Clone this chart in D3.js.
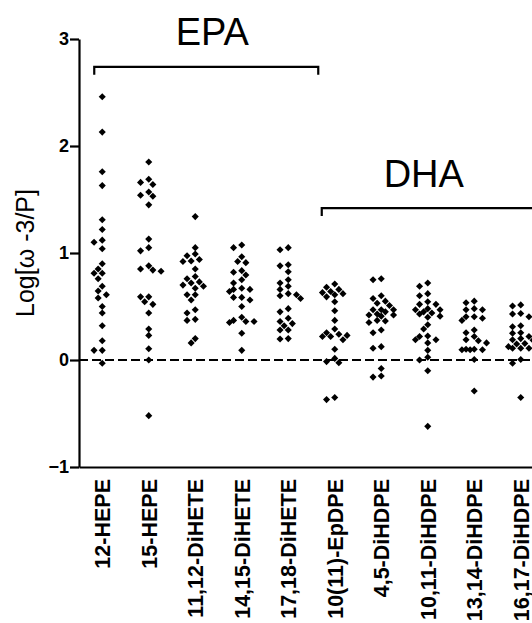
<!DOCTYPE html>
<html>
<head>
<meta charset="utf-8">
<script src="https://cdn.jsdelivr.net/npm/d3@7"></script>
<style>
  html, body { margin: 0; padding: 0; background: #fff; }
  svg { display: block; font-family: "Liberation Sans", Arial, sans-serif; }
  .axis path, .axis line { stroke: #000; stroke-width: 2.2px; }
  .axis text { fill: #000; font-weight: bold; }
</style>
</head>
<body>
<svg id="chart" width="532" height="623"></svg>
<script>
const categories = ['12-HEPE', '15-HEPE', '11,12-DiHETE', '14,15-DiHETE', '17,18-DiHETE',
  '10(11)-EpDPE', '4,5-DiHDPE', '10,11-DiHDPE', '13,14-DiHDPE', '16,17-DiHDPE'];

const hepe12 = [2.46, 2.13, 1.76, 1.63, 1.31, 1.22, 1.10, 1.12, 1.04, 0.90, 0.81, 0.81, 0.85, 0.76,
  0.69, 0.61, 0.645, 0.58, 0.50, 0.44, 0.32, 0.18, 0.09, 0.09, -0.03];
const hepe15 = [1.85, 1.66, 1.64, 1.69, 1.57, 1.53, 1.54, 1.45, 1.13, 1.05, 1.02, 0.85, 0.83, 0.84,
  0.88, 0.59, 0.545, 0.52, 0.59, 0.44, 0.29, 0.23, 0.105, 0.0, -0.52];
const dihete1112 = [1.34, 1.05, 0.99, 0.975, 0.94, 0.92, 0.925, 0.85, 0.76, 0.78, 0.72, 0.69, 0.73,
  0.67, 0.70, 0.61, 0.61, 0.56, 0.47, 0.44, 0.38, 0.37, 0.20, 0.16];
const dihete1415 = [1.075, 1.05, 0.965, 0.92, 0.91, 0.835, 0.82, 0.795, 0.75, 0.72, 0.66, 0.67, 0.66,
  0.64, 0.56, 0.585, 0.585, 0.50, 0.37, 0.40, 0.35, 0.36, 0.36, 0.25, 0.09];
const dihete1718 = [1.03, 1.05, 0.88, 0.89, 0.825, 0.72, 0.75, 0.69, 0.66, 0.60, 0.575, 0.61, 0.62,
  0.48, 0.45, 0.39, 0.34, 0.36, 0.32, 0.28, 0.28, 0.196, 0.20];
const epdpe1011 = [0.68, 0.71, 0.66, 0.62, 0.64, 0.63, 0.61, 0.59, 0.545, 0.46, 0.37, 0.29, 0.23,
  0.255, 0.22, 0.24, 0.19, 0.22, 0.10, -0.015, -0.025, 0.015, -0.37, -0.35];
const dihdpe45 = [0.75, 0.76, 0.60, 0.55, 0.575, 0.51, 0.53, 0.47, 0.45, 0.47, 0.47, 0.41, 0.43, 0.42,
  0.42, 0.37, 0.35, 0.365, 0.28, 0.255, 0.11, 0.125, -0.08, -0.16, -0.15];
const dihdpe1011 = [0.72, 0.69, 0.62, 0.60, 0.545, 0.52, 0.52, 0.47, 0.48, 0.43, 0.45, 0.47, 0.44,
  0.41, 0.40, 0.33, 0.29, 0.22, 0.19, 0.16, 0.19, 0.225, 0.09, 0.025, 0.0, -0.10, -0.62];
const dihdpe1314 = [0.55, 0.535, 0.47, 0.48, 0.47, 0.405, 0.39, 0.37, 0.405, 0.255, 0.22, 0.19, 0.28,
  0.10, 0.095, 0.095, 0.095, 0.10, 0.16, 0.18, 0.005, -0.29];
const dihdpe1617 = [0.505, 0.515, 0.43, 0.405, 0.435, 0.32, 0.25, 0.255, 0.31, 0.20, 0.19, 0.185,
  0.22, 0.11, 0.11, 0.11, 0.125, 0.155, 0.15, 0.005, -0.03, -0.35];

const seriesValues = [hepe12, hepe15, dihete1112, dihete1415, dihete1718,
  epdpe1011, dihdpe45, dihdpe1011, dihdpe1314, dihdpe1617];

const yTicks = [-1, 0, 1, 2, 3];
const groupNames = ['EPA', 'DHA'];
const groupFirst = [0, 5];
const groupLast = [4, 9];

const svg = d3.select('#chart');
const margin = { top: 39, left: 79, bottom: 156 };
const height = 623;
const plotBottom = height - margin.bottom;

// the original graph continues past the right edge, so the band range runs off-canvas
const x = d3.scaleBand().domain(categories).range([margin.left, margin.left + categories.length * 46.5]);
const y = d3.scaleLinear().domain([-1, 3]).range([plotBottom, margin.top]);

// zero reference line
svg.append('line')
  .attr('x1', margin.left).attr('x2', 532)
  .attr('y1', y(0)).attr('y2', y(0))
  .attr('stroke', '#000').attr('stroke-width', 2.2)
  .attr('stroke-dasharray', '9,4');

// x axis
const xAxisGroup = svg.append('g').attr('class', 'axis')
  .attr('transform', `translate(0, ${plotBottom})`)
  .call(d3.axisBottom(x).tickSize(0).tickSizeOuter(0).tickPadding(0));
xAxisGroup.selectAll('.tick text')
  .attr('transform', 'rotate(-90)')
  .attr('text-anchor', 'end')
  .attr('x', -12)
  .attr('y', 0)
  .attr('dy', '0.36em')
  .style('font-size', '21.5px');

// y axis
const yAxisGroup = svg.append('g').attr('class', 'axis')
  .attr('transform', `translate(${margin.left}, 0)`)
  .call(d3.axisLeft(y).tickValues(yTicks).tickFormat(d3.format('d')).tickSize(9).tickSizeOuter(0).tickPadding(1));
yAxisGroup.selectAll('.tick text').style('font-size', '18px');

svg.append('text')
  .attr('transform', `translate(34, ${y(1)}) rotate(-90)`)
  .attr('text-anchor', 'middle')
  .style('font-size', '25px')
  .text('Log[ω -3/P]');

// dodge points that share a level sideways, capped at +-3 steps
const step = 4.1;
const minDist = 5.6;
const pts = [];
seriesValues.forEach((vals, ci) => {
  const cx = x(categories[ci]) + x.bandwidth() / 2;
  const placed = [];
  vals.slice().sort((a, b) => b - a).forEach((v) => {
    const py = y(v);
    let best = 0;
    let bestGap = -1;
    for (let k = 0; k <= 6; k++) {
      const cand = k === 0 ? 0 : (k % 2 ? -1 : 1) * Math.ceil(k / 2) * step;
      const gap = placed.length ? d3.min(placed, (p) => Math.hypot(p.x - (cx + cand), p.y - py)) : Infinity;
      if (gap >= minDist) { best = cand; bestGap = gap; break; }
      if (gap > bestGap) { bestGap = gap; best = cand; }
    }
    const p = { x: cx + best, y: py };
    placed.push(p);
    pts.push(p);
  });
});

const diamond = d3.symbol().type(d3.symbolSquare).size(25);
svg.append('g').selectAll('path')
  .data(pts)
  .join('path')
  .attr('d', diamond)
  .attr('transform', (d) => `translate(${d.x}, ${d.y}) rotate(45)`)
  .attr('fill', '#000');

// group brackets
const bracketLevel = [2.74, 1.42];
const labelLevel = [2.94, 1.62];
groupNames.forEach((name, gi) => {
  const left = x(categories[groupFirst[gi]]) + x.bandwidth() / 2 - (gi === 0 ? 8 : 13);
  const right = gi === 0 ? x(categories[groupLast[gi]]) + x.bandwidth() / 2 + 30 : 560;
  const by = y(bracketLevel[gi]);
  svg.append('path')
    .attr('d', `M${left},${by + 8}V${by}H${right}V${by + 8}`)
    .attr('fill', 'none').attr('stroke', '#000').attr('stroke-width', 2.2);
  const tx = gi === 0 ? (left + right) / 2 + 6 : x(categories[7]) + x.bandwidth() / 2 - 4;
  svg.append('text')
    .attr('x', tx).attr('y', y(labelLevel[gi]))
    .attr('text-anchor', 'middle')
    .style('font-size', '38px')
    .text(name);
});
</script>
</body>
</html>
